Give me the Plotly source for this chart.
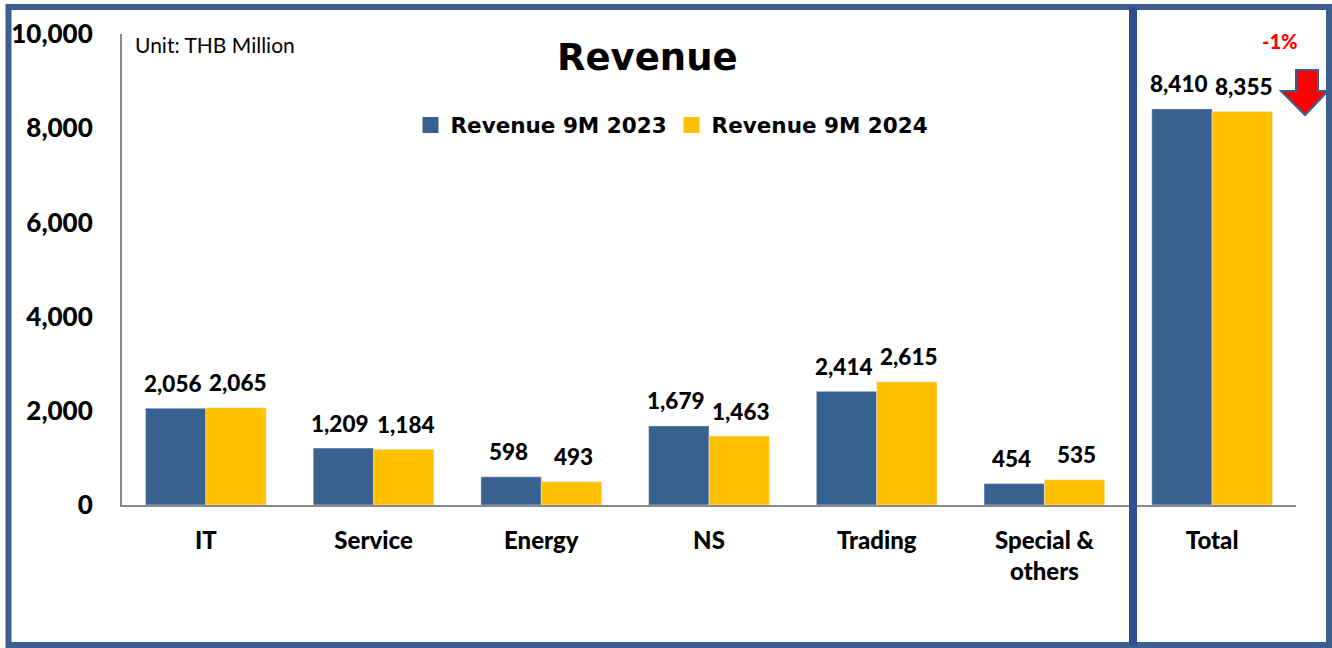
import plotly.graph_objects as go

categories = ["IT", "Service", "Energy", "NS", "Trading", "Special &<br>others", "Total"]
rev_2023 = [2056, 1209, 598, 1679, 2414, 454, 8410]
rev_2024 = [2065, 1184, 493, 1463, 2615, 535, 8355]
series_names = ["Revenue 9M 2023", "Revenue 9M 2024"]
y_ticks = [0, 2000, 4000, 6000, 8000, 10000]
change_label = "-1%"

BLUE = "#386190"
YELLOW = "#FFC000"
FRAME = "#3A5F8E"
FONT = "Lato"
WIDE = "DejaVu Sans"
BOLD = 900

# figure geometry (pixels)
FW, FH = 1332, 648
L, R, T, B = 122, 36, 34, 143
W = FW - L - R
H = FH - T - B


def px(xp):
    return (xp - L) / W


def py(yp):
    return (FH - B - yp) / H


fig = go.Figure()
for name, vals, col in ((series_names[0], rev_2023, BLUE), (series_names[1], rev_2024, YELLOW)):
    fig.add_bar(x=categories, y=vals, name=name, marker_color=col, showlegend=False)
    fig.add_scatter(x=[None], y=[None], mode="markers", name=name,
                    marker=dict(symbol="square", size=16, color=col), showlegend=True)

annotations = []
bar_half = W / len(categories) * (1 - 0.28) / 4
for vals, shift in ((rev_2023, -bar_half - 3), (rev_2024, bar_half + 2)):
    for c, v in zip(categories, vals):
        annotations.append(dict(x=c, y=v, xref="x", yref="y", text=f"{v:,}",
                                showarrow=False, xshift=shift, yshift=25, yanchor="middle",
                                font=dict(family=FONT, size=22.5, color="black", weight=BOLD)))

annotations += [
    dict(x=px(647), y=py(57), xref="paper", yref="paper", text="<b>Revenue</b>",
         showarrow=False, xanchor="center", yanchor="middle",
         font=dict(family=WIDE, size=37, color="black")),
    dict(x=px(133), y=py(44), xref="paper", yref="paper", text="Unit: THB Million",
         showarrow=False, xanchor="left", yanchor="middle",
         font=dict(family=FONT, size=21, color="black")),
    dict(x=px(1280), y=py(41), xref="paper", yref="paper", text=change_label,
         showarrow=False, xanchor="center", yanchor="middle",
         font=dict(family=FONT, size=20, color="#FF0000", weight=BOLD)),
]

arrow_pts = [(1296, 70), (1318, 70), (1318, 91), (1328, 91), (1305, 115), (1281, 91), (1296, 91)]
arrow_path = "M " + " L ".join(f"{px(a)},{py(b)}" for a, b in arrow_pts) + " Z"

shapes = [
    dict(type="rect", xref="paper", yref="paper", x0=px(8.5), x1=px(1329), y0=py(645), y1=py(7),
         line=dict(color=FRAME, width=6), layer="above"),
    dict(type="line", xref="paper", yref="paper", x0=px(1133), x1=px(1133), y0=py(645), y1=py(7),
         line=dict(color="#2F5090", width=8), layer="above"),
    dict(type="path", xref="paper", yref="paper", path=arrow_path,
         fillcolor="#FF0000", line=dict(color=FRAME, width=2), layer="above"),
]

fig.update_layout(
    width=FW, height=FH,
    margin=dict(l=L, r=R, t=T, b=B),
    paper_bgcolor="white", plot_bgcolor="white",
    barmode="group", bargap=0.28, bargroupgap=0,
    font=dict(family=FONT, color="black"),
    showlegend=True,
    legend=dict(orientation="h", x=px(672), y=py(125), xanchor="center", yanchor="middle",
                font=dict(family=WIDE, size=21.5, color="black", weight="bold"),
                itemwidth=30, bgcolor="rgba(0,0,0,0)", tracegroupgap=0),
    annotations=annotations,
    shapes=shapes,
    xaxis=dict(showline=True, linecolor="#898989", linewidth=2, ticks="", showgrid=False,
               tickfont=dict(family=FONT, size=24, color="black", weight=BOLD),
               ticklabelstandoff=13, zeroline=False),
    yaxis=dict(range=[0, 10000], tickvals=y_ticks, tickformat=",", showline=True,
               linecolor="#898989", linewidth=2, ticks="", showgrid=False, zeroline=False,
               tickfont=dict(family=FONT, size=26, color="black", weight=BOLD),
               ticklabelstandoff=22),
)

fig.write_html("out.html", config={"displayModeBar": False},
               post_script="document.body.style.margin='0';document.body.style.overflow='hidden';")
